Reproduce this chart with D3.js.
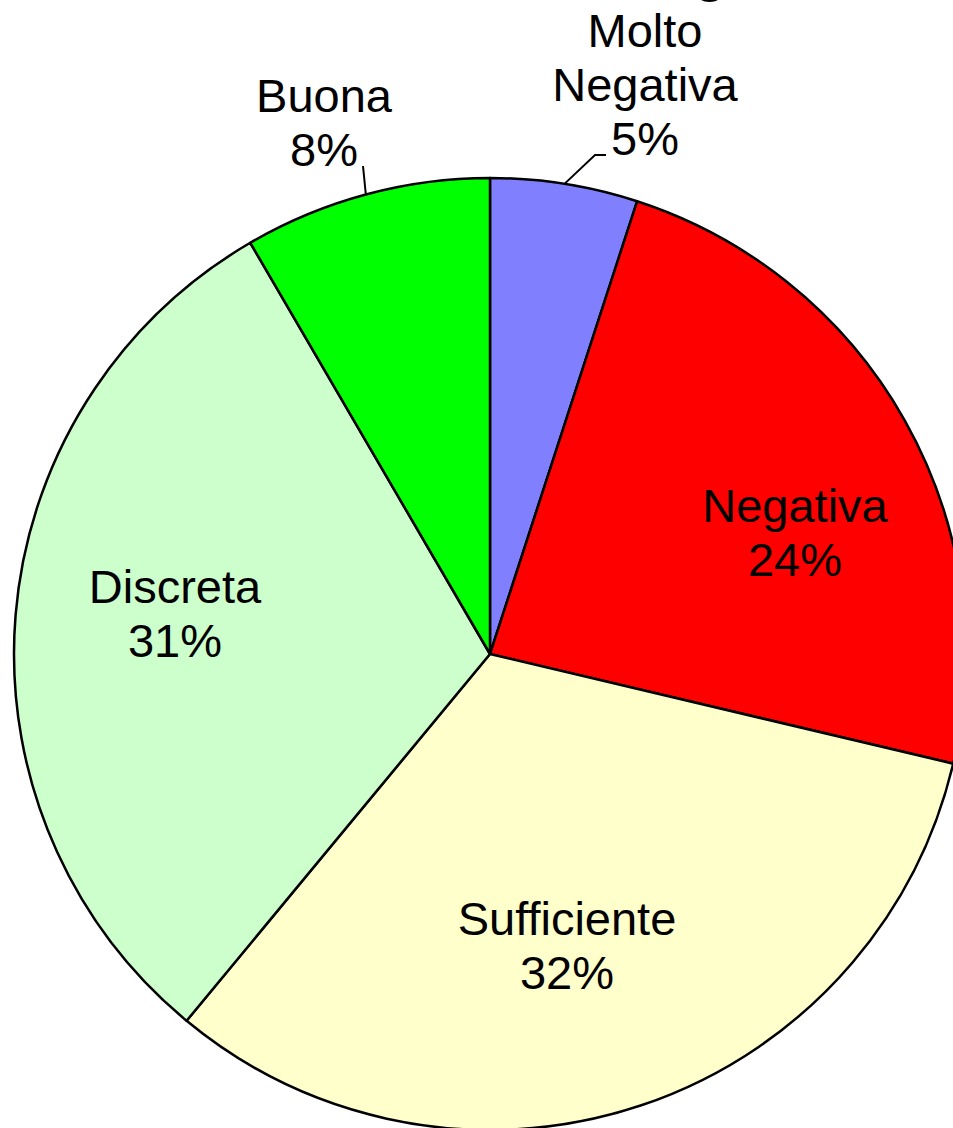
<!DOCTYPE html>
<html>
<head>
<meta charset="utf-8">
<script src="https://cdn.jsdelivr.net/npm/d3@7"></script>
<style>
  body { margin: 0; background: #fff; }
  text { font-family: "Liberation Sans", Arial, sans-serif; fill: #000; }
</style>
</head>
<body>
<div id="chart"></div>
<script>
// data (percent of answers), clockwise from 12 o'clock
var categories = ["Molto Negativa", "Negativa", "Sufficiente", "Discreta", "Buona"];
var values = [5.0, 23.7, 32.3, 30.6, 8.4];
var colors = ["#8080ff", "#ff0000", "#ffffcc", "#ccffcc", "#00ff00"];

// layout of the label blocks (centre x, first baseline y) and leader line ends
var labelLayout = [
  { x: 645, y: 47, lines: ["Molto", "Negativa"], leader: [[606, 155], [595, 155]] },
  { x: 795, y: 522, lines: ["Negativa"] },
  { x: 567, y: 935, lines: ["Sufficiente"] },
  { x: 175, y: 603, lines: ["Discreta"] },
  { x: 324, y: 112, lines: ["Buona"], leader: [[363, 166]] }
];

var width = 953, height = 1128;
var cx = 490, cy = 654, radius = 476;
var fontSize = 47, lineH = 54;

var svg = d3.select("#chart").append("svg")
  .attr("width", width)
  .attr("height", height);

// title sits above the visible area, only its descender shows
svg.append("text")
  .attr("x", 710).attr("y", -10)
  .attr("text-anchor", "middle")
  .style("font-size", "60px")
  .text("g");

var pie = d3.pie().sort(null).value(function (d) { return d; });
var arcs = pie(values);
var arc = d3.arc().innerRadius(0).outerRadius(radius);

var g = svg.append("g").attr("transform", "translate(" + cx + "," + cy + ")");

g.selectAll("path.slice")
  .data(arcs)
  .enter().append("path")
  .attr("class", "slice")
  .attr("d", arc)
  .attr("fill", function (d, i) { return colors[i]; })
  .attr("stroke", "#000")
  .attr("stroke-width", 2.5)
  .attr("stroke-linejoin", "round");

// leader lines from the slice edge at its mid angle
arcs.forEach(function (d, i) {
  var lay = labelLayout[i];
  if (!lay.leader) return;
  var a = (d.startAngle + d.endAngle) / 2;
  var pts = [[cx + radius * Math.sin(a), cy - radius * Math.cos(a)]];
  lay.leader.slice().reverse().forEach(function (p) { pts.push(p); });
  svg.append("path")
    .attr("d", d3.line()(pts))
    .attr("fill", "none")
    .attr("stroke", "#000")
    .attr("stroke-width", 2);
});

// labels: name lines then the rounded percent
arcs.forEach(function (d, i) {
  var lay = labelLayout[i];
  var lines = lay.lines.concat([d3.format(".0f")(values[i]) + "%"]);
  var t = svg.append("text")
    .attr("text-anchor", "middle")
    .style("font-size", fontSize + "px");
  lines.forEach(function (s, k) {
    t.append("tspan")
      .attr("x", lay.x)
      .attr("y", lay.y + k * lineH)
      .text(s);
  });
});
</script>
</body>
</html>
